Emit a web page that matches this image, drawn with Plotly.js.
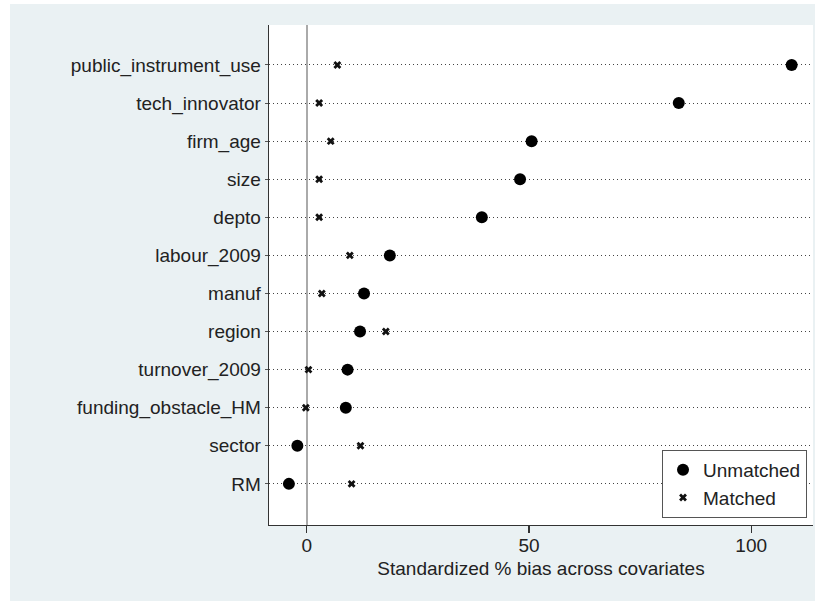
<!DOCTYPE html>
<html>
<head>
<meta charset="utf-8">
<script src="https://cdn.plot.ly/plotly-3.0.1.min.js"></script>
<style>
  html, body { margin: 0; padding: 0; background: #ffffff; }
  #bg { position: absolute; left: 10px; top: 4px; width: 805px; height: 597px; background: #eaf1f3; }
  #chart { position: absolute; left: 0; top: 0; width: 820px; height: 601px; }
</style>
</head>
<body>
<div id="bg"></div>
<div id="chart"></div>
<script>
// Covariates, top to bottom
var categories = [
  "public_instrument_use", "tech_innovator", "firm_age", "size", "depto",
  "labour_2009", "manuf", "region", "turnover_2009", "funding_obstacle_HM",
  "sector", "RM"
];
// Standardized % bias, unmatched sample
var unmatched = [109.1, 83.7, 50.6, 48.0, 39.4, 18.7, 12.9, 12.0, 9.2, 8.8, -2.1, -4.0];
// Standardized % bias, matched sample
var matched = [6.9, 2.8, 5.4, 2.8, 2.8, 9.7, 3.4, 17.8, 0.4, -0.2, 12.1, 10.1];
var xTicks = [0, 50, 100];
var xTitle = "Standardized % bias across covariates";

var fontFam = "Liberation Sans, Arial, Helvetica, sans-serif";
var txt = "#222222";

var traces = [
  {
    type: "scatter", mode: "markers", name: "Unmatched",
    x: unmatched, y: categories,
    marker: { symbol: "circle", size: 12, color: "#000000" },
    cliponaxis: false
  },
  {
    type: "scatter", mode: "markers", name: "Matched",
    x: matched, y: categories,
    marker: { symbol: "x", size: 7, color: "#111111", line: { width: 0 } },
    cliponaxis: false
  }
];

var layout = {
  width: 820, height: 601,
  paper_bgcolor: "rgba(0,0,0,0)",
  plot_bgcolor: "#ffffff",
  margin: { l: 269, r: 7, t: 25, b: 76, pad: 0 },
  font: { family: fontFam, size: 19, color: txt },
  showlegend: true,
  legend: {
    x: 0.989, y: 0.014, xanchor: "right", yanchor: "bottom",
    bgcolor: "#ffffff", bordercolor: "#555555", borderwidth: 1,
    font: { family: fontFam, size: 19, color: txt },
    tracegroupgap: 0
  },
  xaxis: {
    range: [-8.48, 113.9],
    tickvals: xTicks, ticktext: xTicks.map(String),
    ticks: "outside", ticklen: 7, tickwidth: 1.3, tickcolor: "#333333",
    showline: true, linecolor: "#333333", linewidth: 1.3,
    showgrid: false,
    zeroline: true, zerolinecolor: "#aaaaaa", zerolinewidth: 2,
    tickfont: { family: fontFam, size: 19, color: txt },
    ticklabelstandoff: -4,
    title: { text: xTitle, font: { family: fontFam, size: 19, color: txt }, standoff: 6 },
    fixedrange: true
  },
  yaxis: {
    type: "category",
    categoryorder: "array", categoryarray: categories,
    range: [12.08, -1.05],
    showgrid: true, griddash: "1px,3px", gridcolor: "#444444", gridwidth: 1,
    showline: true, linecolor: "#333333", linewidth: 1.3,
    ticks: "outside", ticklen: 3, tickwidth: 1, tickcolor: "#555555",
    zeroline: false,
    tickfont: { family: fontFam, size: 19, color: txt },
    ticklabelstandoff: 0,
    fixedrange: true
  }
};

Plotly.newPlot("chart", traces, layout, { displayModeBar: false, staticPlot: true });
</script>
</body>
</html>
